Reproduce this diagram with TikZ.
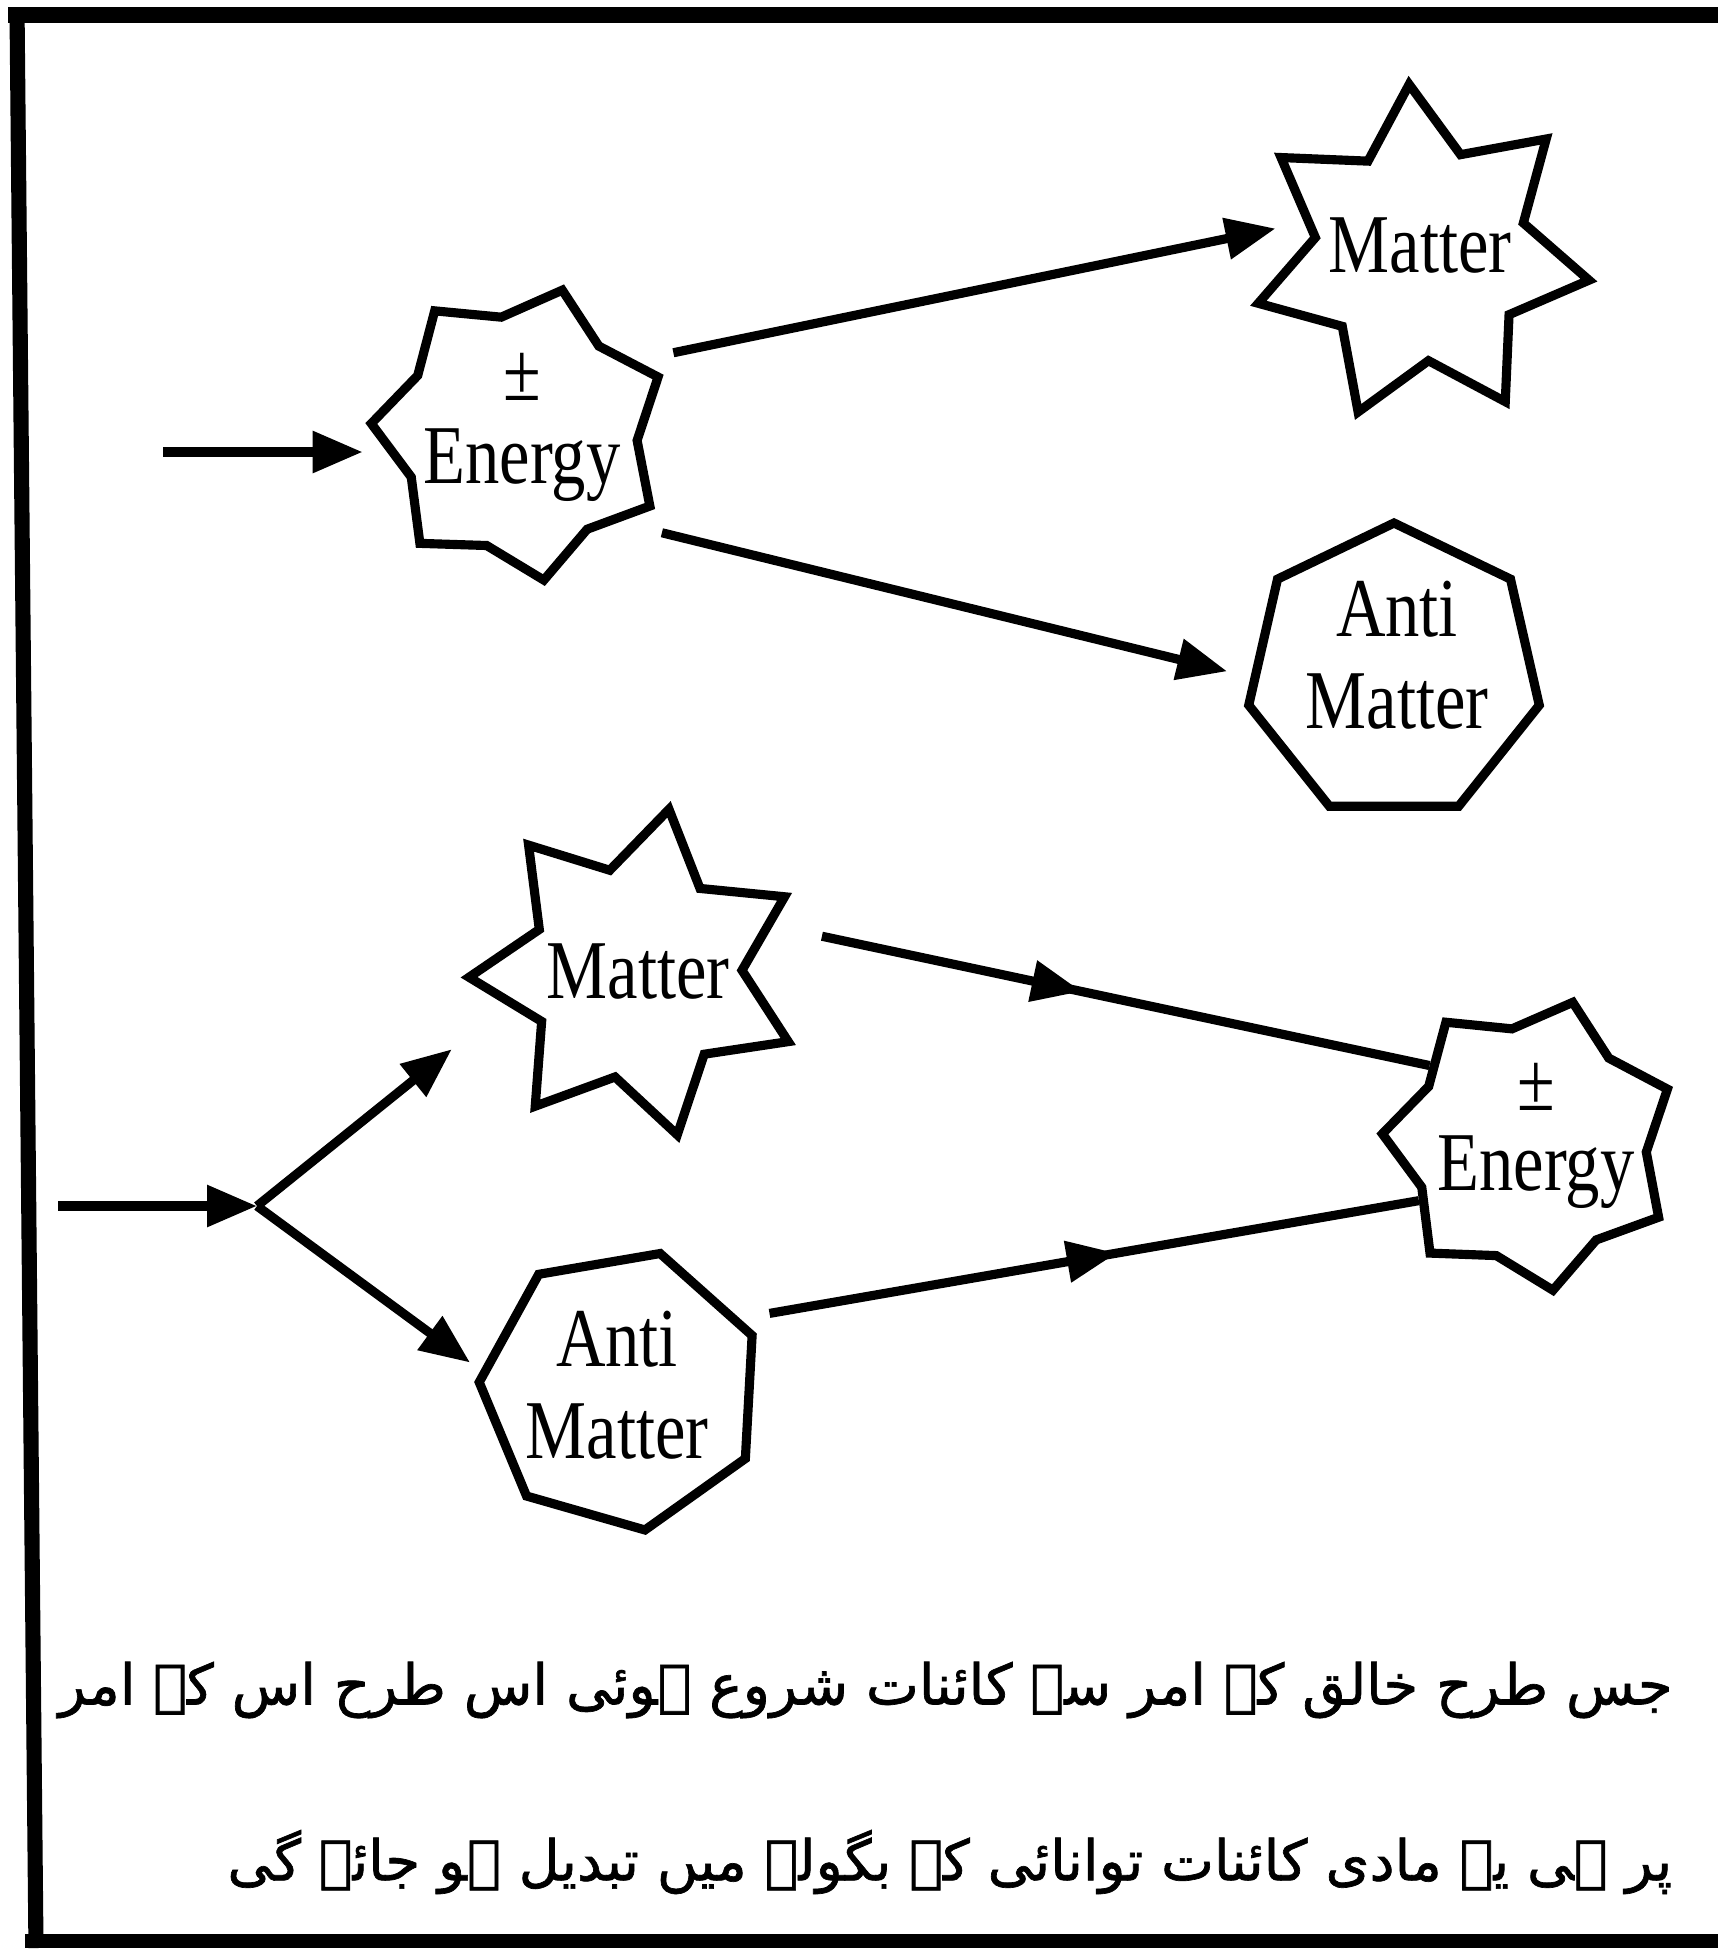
\documentclass[tikz,border=0pt]{standalone}
\usepackage{fontspec}
\usepackage{tikz}
\usetikzlibrary{shapes.geometric}
\usetikzlibrary{calc}
\usetikzlibrary{arrows.meta,decorations.markings}
\newfontfamily\stretchfont[FakeStretch=0.82]{Liberation Serif}
\newfontfamily\urdufont[Script=Arabic,FakeBold=1.2]{DejaVu Sans}
\TeXXeTstate=1
\tikzset{
	starnode/.style = {shape=star, draw, star points=7,
		inner sep=0pt, line width=2.6pt, line join=miter},
	heptnode/.style = {shape=regular polygon, regular polygon sides=7,
		draw, inner sep=0pt, line width=2.6pt},
	txt/.style      = {align=center, inner sep=0pt,
		font=\stretchfont\fontsize{23.8}{26.2}\selectfont},
	urdu/.style     = {inner sep=0pt, anchor=east,
		font=\urdufont\fontsize{16}{20}\selectfont},
	arr/.style      = {-{Triangle[length=5mm,width=4mm]}, line width=2.6pt},
	midarr/.style   = {line width=2.6pt, postaction={decorate},
		decoration={markings, mark=at position #1 with
			{\arrow{Triangle[length=5mm,width=4mm]}}}}
}
\begin{document}
\begin{tikzpicture}
\useasboundingbox (0,0) rectangle (17.18,-19.51);
% frame
\draw[line width=4.3pt] (0.08,-0.15) -- (17.18,-0.15);
\draw[line width=4.3pt] (0.17,-0.08) -- (0.36,-19.48);
\draw[line width=3.8pt] (0.25,-19.41) -- (17.18,-19.41);

% top half
\node [starnode, star point ratio=1.27, minimum size=2.98cm,
	shape border rotate=-16.5] (E1) at (5.20,-4.33) {};
\node [txt] (E1t) at (5.22,-4.27) {±\\[-2.6pt]Energy};
\node [starnode, star point ratio=1.59, minimum size=3.40cm,
	shape border rotate=4] (M1) at (14.21,-2.54) {};
\node [txt] (M1t) at (14.20,-2.46) {Matter};
\node [heptnode, minimum size=2.98cm] (AM1) at (13.94,-6.72) {};
\node [txt] (AM1t) at (13.97,-6.55) {Anti\\Matter};

\coordinate (in1) at (1.63,-4.52);
\draw[arr, shorten >=1mm] (in1) -- (in1 -| E1.180);
\draw[arr, shorten <=3.8mm, shorten >=2.9mm] (E1.32) -- (M1.165);
\draw[arr, shorten <=4.4mm, shorten >=2.4mm] (E1.318) -- (AM1.182);

% bottom half
\node [starnode, star point ratio=1.575, minimum size=3.34cm,
	shape border rotate=-11.4] (M2) at (6.36,-9.73) {};
\node [txt] (M2t) at (6.38,-9.72) {Matter};
\node [heptnode, minimum size=2.84cm, shape border rotate=-16] (AM2) at (6.21,-13.90) {};
\node [txt] (AM2t) at (6.17,-13.85) {Anti\\Matter};
\node [starnode, star point ratio=1.27, minimum size=2.96cm,
	shape border rotate=-16.8] (E2) at (15.30,-11.44) {};
\node [txt] (E2t) at (15.36,-11.36) {±\\[-3.4pt]Energy};

\coordinate (in2) at (0.58,-12.06);
\coordinate (J) at (2.57,-12.06);
\draw[arr] (in2) -- (J);
\draw[arr, shorten >=7mm] (J) -- (M2.194);
\draw[arr, shorten >=1.3mm] (J) -- (AM2.172);
\draw[midarr=0.47, shorten <=5mm] (M2.19) -- (E2.142);
\draw[midarr=0.555, shorten <=3mm] (AM2.31) -- (E2.207);

% urdu text
\node [urdu] (line1) at (16.73,-16.90)
	{\beginR جس طرح خالق کے امر سے کائنات شروع ہوئی اس طرح اس کے امر\endR};
\node [urdu] (line2) at (16.73,-18.62)
	{\beginR پر ہی یہ مادی کائنات توانائی کے بگولہ میں تبدیل ہو جائے گی\endR};
\end{tikzpicture}
\end{document}
